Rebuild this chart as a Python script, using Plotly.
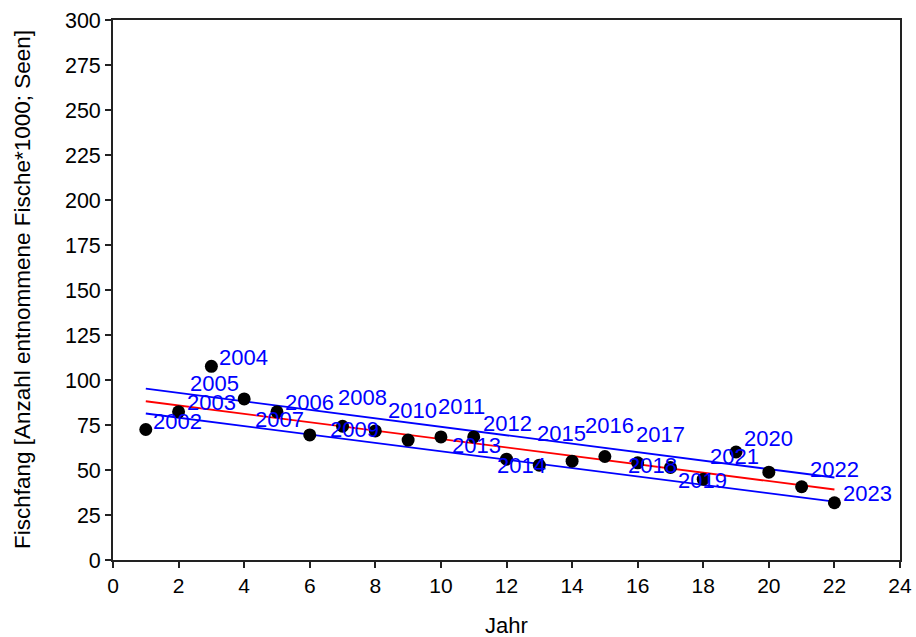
import plotly.graph_objects as go

# Data
jahr = list(range(1, 23))
labels = [str(2001 + i) for i in jahr]
fischfang = [72.5, 82.3, 107.6, 89.5, 82.3, 69.5, 74.3, 71.7, 66.6, 68.4, 68.4,
             56.0, 52.7, 54.9, 57.5, 54.0, 51.4, 44.9, 60.0, 48.8, 40.7, 31.8]

trend_x = [1, 22]
trend_mid = [88.2, 39.2]
trend_upper = [95.2, 45.8]
trend_lower = [81.4, 32.4]

x_title = "Jahr"
y_title = "Fischfang [Anzahl entnommene Fische*1000; Seen]"

# label offsets in pixels (style only)
label_dx = [32, 33, 32, -30, 33, -30, 20, -21, 4, 21, 34, -30, -18, -11, 5, 23, -18, -1, 32, -34, 33, 33]
label_dy = [8, 9, 9, 15, 9, 15, 29, 1, 30, 30, 13, 14, 0, 28, 31, 28, 2, -1, 14, 16, 17, 9]

font = "Liberation Sans, Arial, sans-serif"

fig = go.Figure()
fig.add_trace(go.Scatter(x=trend_x, y=trend_upper, mode="lines",
                         line=dict(color="#0000ff", width=1.9), showlegend=False, hoverinfo="skip"))
fig.add_trace(go.Scatter(x=trend_x, y=trend_lower, mode="lines",
                         line=dict(color="#0000ff", width=1.9), showlegend=False, hoverinfo="skip"))
fig.add_trace(go.Scatter(x=trend_x, y=trend_mid, mode="lines",
                         line=dict(color="#ff0000", width=1.9), showlegend=False, hoverinfo="skip"))
fig.add_trace(go.Scatter(x=jahr, y=fischfang, mode="markers",
                         marker=dict(color="black", size=13), showlegend=False))

for xi, yi, lab, dx, dy in zip(jahr, fischfang, labels, label_dx, label_dy):
    fig.add_annotation(x=xi, y=yi, text=lab, showarrow=False, xshift=dx, yshift=dy,
                       font=dict(family=font, size=22, color="#0000ff"))

fig.add_annotation(xref="paper", yref="paper", x=0.5, y=0, yshift=-65, text=x_title,
                   xanchor="center", yanchor="middle",
                   showarrow=False, font=dict(family=font, size=22, color="black"))
fig.add_annotation(xref="paper", yref="paper", x=0, y=0.5, xshift=-91, text=y_title,
                   xanchor="center", yanchor="middle",
                   textangle=-90, showarrow=False, font=dict(family=font, size=22.5, color="black"))

fig.update_layout(
    width=916, height=637,
    margin=dict(l=113, r=16, t=20, b=77),
    plot_bgcolor="white", paper_bgcolor="white",
    font=dict(family=font, size=21, color="black"),
    xaxis=dict(range=[0, 24], dtick=2, tick0=0, showgrid=False, zeroline=False,
               showline=True, linecolor="#222", linewidth=1.8, mirror=True,
               ticks="outside", ticklen=6, tickwidth=1.5, tickcolor="#222",
               tickfont=dict(size=21), automargin=False),
    yaxis=dict(range=[0, 300], dtick=25, tick0=0, showgrid=False, zeroline=False,
               showline=True, linecolor="#222", linewidth=1.8, mirror=True,
               ticks="outside", ticklen=6, tickwidth=1.5, tickcolor="#222",
               tickfont=dict(size=21.5), automargin=False),
)

fig.write_html("out.html", config={"displayModeBar": False},
               post_script="document.body.style.margin='0';")
